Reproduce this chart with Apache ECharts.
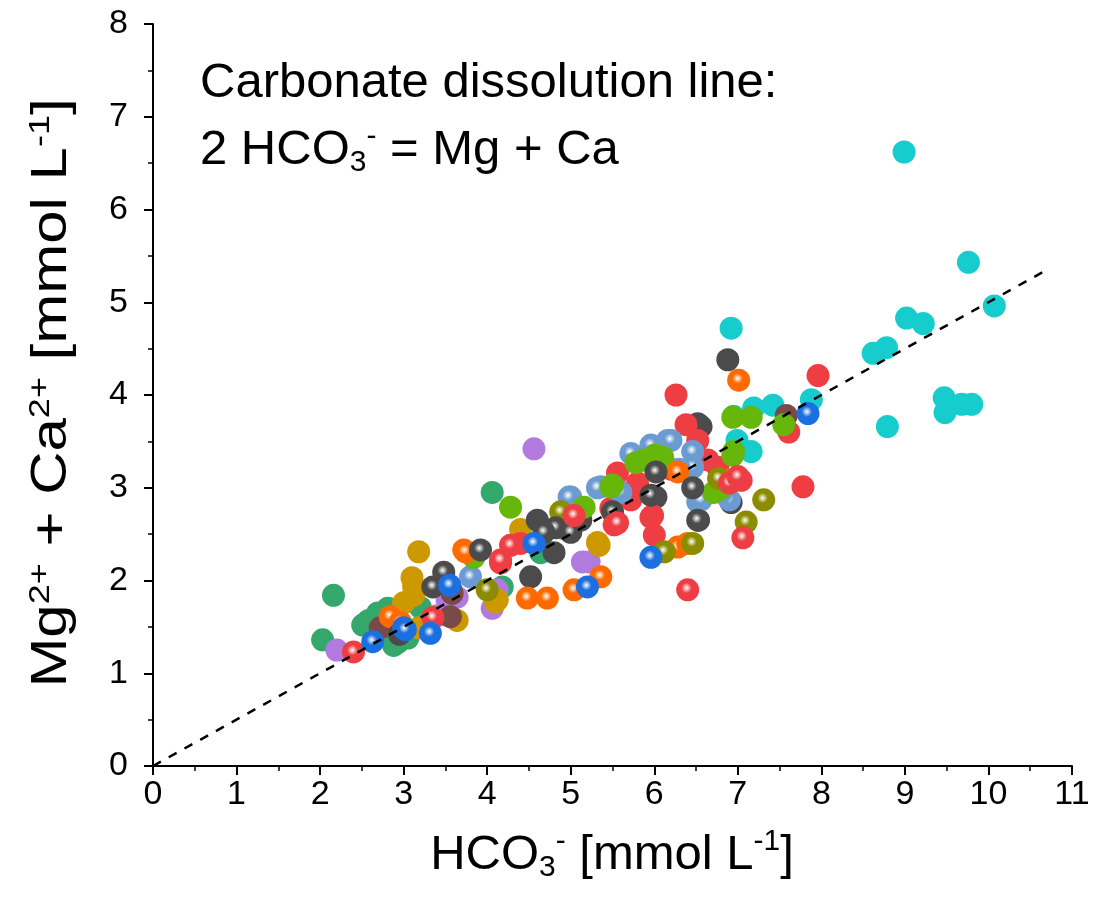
<!DOCTYPE html>
<html><head><meta charset="utf-8">
<script src="https://cdn.jsdelivr.net/npm/echarts@6/dist/echarts.min.js"></script>
<style>html,body{margin:0;padding:0;background:#fff}#c{width:1094px;height:911px}</style>
</head><body><div id="c"></div>
<script>
// ---- data (HCO3-, Mg+Ca) in mmol/L ----
const cyanPts = [[8.99,6.62],[9.76,5.43],[9.02,4.83],[9.22,4.77],[10.07,4.96],[8.62,4.45],[8.78,4.51],[8.79,3.66],[9.47,3.97],[9.48,3.81],[9.68,3.90],[9.80,3.90],[6.92,4.72],[7.19,3.86],[7.42,3.89],[7.88,3.95],[6.99,3.51],[7.16,3.39],[6.95,3.77]];
const seaGreenPts = [[2.16,1.84],[2.03,1.36],[2.51,1.52],[2.69,1.65],[2.81,1.70],[2.93,1.33],[2.88,1.30],[2.58,1.57],[3.20,1.71],[4.06,2.95],[4.18,1.93],[4.64,2.30],[3.05,1.38]];
const purplePts = [[4.56,3.42],[2.20,1.25],[5.14,2.20],[5.22,2.20],[4.06,1.70],[3.52,1.79],[3.64,1.82],[4.12,1.90],[3.40,1.62]];
const goldPts = [[3.18,2.31],[3.10,2.03],[3.12,1.84],[3.00,1.76],[3.64,1.57],[4.12,1.79],[5.32,2.41],[3.18,1.49],[3.12,1.93],[4.10,1.77],[5.34,2.38],[2.92,1.55],[4.40,2.55]];
const brownPts = [[2.72,1.49],[3.56,1.61],[3.56,1.92],[3.58,1.86],[7.58,3.78]];
const grayFlatPts = [[6.88,4.38],[6.52,3.69],[4.52,2.04],[4.60,2.65],[5.12,2.65],[6.56,3.66],[6.92,2.84],[6.02,2.90],[6.53,2.65],[4.80,2.30],[5.60,2.95]];
const redFlatPts = [[7.96,4.21],[6.26,4.00],[6.38,3.68],[7.78,3.01],[6.00,2.49],[5.98,2.70],[7.61,3.60],[5.56,3.16],[5.48,2.78],[5.72,2.87],[5.96,2.68],[6.52,3.51],[6.64,3.30],[6.76,3.22],[7.04,3.08],[4.16,2.19],[4.40,2.40],[6.20,3.20],[5.80,3.05]];
const limePts = [[5.50,3.03],[5.88,3.30],[6.00,3.35],[5.78,3.27],[6.77,2.98],[6.94,3.76],[6.95,3.39],[7.16,3.76],[7.55,3.68],[6.94,3.35],[6.80,3.00],[6.71,2.95],[4.28,2.79],[3.84,2.25],[5.16,2.79],[5.48,3.01],[6.10,3.33]];
const steelPts = [[5.72,3.37],[5.96,3.46],[6.16,3.51],[6.46,3.39],[6.46,3.22],[5.36,3.01],[5.00,2.90],[6.52,2.85],[6.90,2.87],[6.20,3.51],[6.56,2.87],[4.98,2.90],[5.32,3.00],[3.80,2.04],[6.80,2.95],[5.60,2.95],[6.30,3.20]];
const orangePts = [[7.01,4.16],[2.84,1.61],[2.96,1.55],[3.72,2.33],[4.48,1.81],[4.72,1.81],[5.04,1.90],[5.36,2.04],[6.28,2.36],[6.88,3.08],[6.28,3.17],[3.74,2.31],[6.40,2.40]];
const olivePts = [[7.31,2.87],[7.10,2.63],[6.46,2.40],[6.12,2.31],[4.00,1.90],[4.88,2.74],[6.77,3.10],[4.92,2.56]];
const grayBallPts = [[3.92,2.33],[3.48,2.09],[3.35,1.93],[4.82,2.57],[5.00,2.52],[5.50,2.74],[6.02,3.17],[6.46,3.00],[5.96,2.92],[6.52,2.65],[4.68,2.52],[2.95,1.42]];
const redBallPts = [[7.06,2.46],[6.40,1.90],[5.52,2.60],[2.40,1.23],[3.35,1.60],[4.16,2.22],[4.28,2.38],[5.04,2.70],[5.56,2.62],[6.90,3.05],[7.00,3.12]];
const bluePts = [[7.84,3.80],[2.63,1.34],[3.00,1.49],[3.32,1.43],[4.56,2.40],[5.20,1.93],[5.96,2.25],[3.02,1.47],[3.55,1.95]];
const linePts = [[0,0],[10.72,5.36]];
const xTicks = [0,1,2,3,4,5,6,7,8,9,10,11];

const FONT = '"Liberation Sans", Arial, sans-serif';
function ball(c){
  return {type:'radial',x:0.45,y:0.42,r:0.5,colorStops:[{offset:0,color:'#ffffff'},{offset:0.45,color:c},{offset:1,color:c}]};
}
function sc(name,data,color,isBall){
  return {type:'scatter',name:name,data:data,symbolSize:23,
    itemStyle:{color:isBall?ball(color):color,opacity:1},emphasis:{disabled:true}};
}
const richBig = {
  sub:{fontSize:30,verticalAlign:'bottom',padding:[26,0,0,0],fontFamily:FONT,fill:'#000'},
  sup:{fontSize:30,verticalAlign:'top',padding:[0,0,22,0],fontFamily:FONT,fill:'#000'}
};
const chart = echarts.init(document.getElementById('c'),null,{renderer:'canvas'});
chart.setOption({
  animation:false,
  backgroundColor:'#ffffff',
  grid:{left:153,right:22,top:24,bottom:145},
  xAxis:{type:'value',min:0,max:11,interval:1,
    axisLine:{show:true,onZero:false,lineStyle:{color:'#000',width:2}},
    axisTick:{show:true,length:9,lineStyle:{color:'#000',width:2}},
    minorTick:{show:true,splitNumber:2,length:5,lineStyle:{color:'#000',width:1.5}},
    splitLine:{show:false},
    axisLabel:{color:'#000',fontFamily:FONT,fontSize:34,margin:12,
      formatter:function(v){return xTicks.indexOf(v)>=0?String(v):'';}}},
  yAxis:{type:'value',min:0,max:8,interval:1,
    axisLine:{show:true,onZero:false,lineStyle:{color:'#000',width:2}},
    axisTick:{show:true,length:9,lineStyle:{color:'#000',width:2}},
    minorTick:{show:true,splitNumber:2,length:5,lineStyle:{color:'#000',width:1.5}},
    splitLine:{show:false},
    axisLabel:{color:'#000',fontFamily:FONT,fontSize:34,margin:25}},
  graphic:[
    {type:'text',left:200,top:59,style:{text:'Carbonate dissolution line:',fill:'#000',fontSize:49,fontFamily:FONT}},
    {type:'text',left:200,top:122,style:{text:'2 HCO{sub|3}{sup|-} = Mg + Ca',fill:'#000',fontSize:49,fontFamily:FONT,rich:richBig}},
    {type:'text',x:612,y:855,style:{text:'HCO{sub|3}{sup|-} [mmol L{sup|-1}]',fill:'#000',fontSize:49,fontFamily:FONT,
      align:'center',verticalAlign:'middle',rich:richBig}},
    {type:'text',x:52,y:393,rotation:Math.PI/2,scaleX:1.2,scaleY:1,style:{text:'Mg{sup|2+} + Ca{sup|2+} [mmol L{sup|-1}]',fill:'#000',fontSize:50,fontFamily:FONT,
      align:'center',verticalAlign:'middle',rich:richBig}}
  ],
  series:[
    sc('cyan',cyanPts,'#17CCCC',false),
    sc('seaGreen',seaGreenPts,'#33A86A',false),
    sc('purple',purplePts,'#B07ADF',false),
    sc('gold',goldPts,'#CC9900',false),
    sc('brown',brownPts,'#7A4A48',false),
    sc('grayFlat',grayFlatPts,'#4B4B4B',false),
    sc('redFlat',redFlatPts,'#EE3E43',false),
    sc('steel',steelPts,'#6B9BD0',true),
    sc('lime',limePts,'#66B70A',false),
    sc('orange',orangePts,'#FF6A00',true),
    sc('olive',olivePts,'#8C8C00',true),
    sc('grayBall',grayBallPts,'#4B4B4B',true),
    sc('redBall',redBallPts,'#EE3E43',true),
    sc('blue',bluePts,'#1B6FE0',true),
    {type:'line',name:'dissolution',data:linePts,showSymbol:false,symbol:'none',z:10,
      lineStyle:{color:'#000',width:2.5,type:[9,9]},emphasis:{disabled:true}}
  ]
});
</script></body></html>
